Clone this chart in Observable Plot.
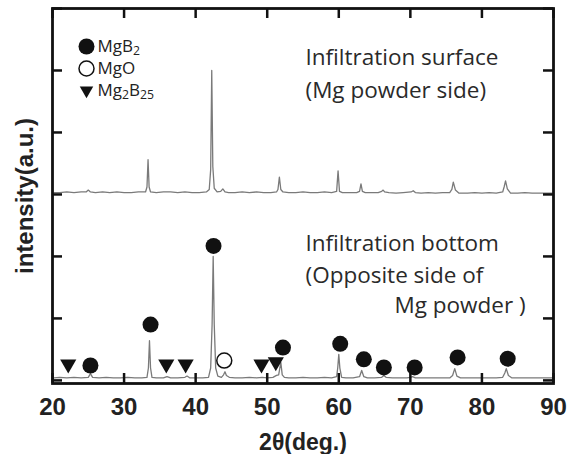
<!DOCTYPE html>
<html>
<head>
<meta charset="utf-8">
<script src="https://cdn.jsdelivr.net/npm/d3@7"></script>
<script src="https://cdn.jsdelivr.net/npm/@observablehq/plot@0.6"></script>
<style>
  html, body { margin: 0; padding: 0; background: #fff; }
  #chart svg { display: block; }
</style>
</head>
<body>
<div id="chart"></div>
<script>
// ---- Data ----
const xTicks = [20, 30, 40, 50, 60, 70, 80, 90];
const yTicks = [0, 1, 2, 3, 4, 5, 6];

// Infiltration surface trace (2θ, intensity a.u.)
const surfX = [20.2,21.0,22.0,23.0,24.0,24.7,25.0,25.3,26.0,27.0,28.0,29.0,30.0,31.0,32.0,33.0,33.2,33.35,33.5,33.7,34.5,35.5,36.5,37.5,38.5,39.5,40.5,41.5,41.9,42.1,42.25,42.4,42.6,43.0,43.5,43.8,44.1,44.6,45.5,46.5,47.5,48.5,49.5,50.5,51.3,51.5,51.7,51.9,52.2,53.0,54.0,55.0,56.0,57.0,58.0,59.0,59.7,59.9,60.1,60.5,61.5,62.5,62.9,63.1,63.3,63.7,64.5,65.5,66.0,66.2,66.4,67.0,68.0,69.0,70.1,70.4,70.7,71.5,72.5,73.5,74.5,75.5,75.8,76.0,76.3,76.8,78.0,79.0,80.0,81.0,82.0,82.9,83.1,83.3,83.55,84.0,85.0,86.0,87.0,88.0,89.0,89.8];
const surfY = [3.03,3.03,3.04,3.03,3.04,3.04,3.07,3.04,3.03,3.04,3.03,3.04,3.03,3.03,3.04,3.04,3.12,3.56,3.12,3.04,3.03,3.04,3.04,3.03,3.04,3.03,3.03,3.04,3.08,3.40,5.00,3.45,3.10,3.04,3.05,3.09,3.04,3.03,3.03,3.04,3.03,3.04,3.03,3.03,3.04,3.08,3.28,3.08,3.04,3.03,3.03,3.04,3.03,3.03,3.04,3.03,3.05,3.38,3.05,3.03,3.03,3.03,3.05,3.17,3.05,3.03,3.03,3.03,3.05,3.07,3.04,3.03,3.02,3.03,3.04,3.06,3.03,3.02,3.03,3.02,3.03,3.03,3.08,3.20,3.07,3.02,3.02,3.03,3.02,3.03,3.02,3.04,3.12,3.22,3.09,3.02,3.02,3.03,3.02,3.02,3.02,3.02];

// Infiltration bottom trace
const bottX = [20.2,21.0,22.0,23.0,24.0,25.0,25.3,25.6,26.5,27.5,28.5,29.5,30.5,31.5,32.5,33.2,33.4,33.55,33.7,33.9,34.5,35.5,36.0,36.5,37.5,38.5,38.8,39.2,40.0,41.0,41.8,42.1,42.3,42.45,42.6,42.8,43.1,43.6,43.9,44.1,44.3,44.7,45.5,46.5,47.5,48.5,49.3,50.0,50.8,51.3,51.6,51.9,52.1,52.4,53.0,54.0,55.0,56.0,57.0,58.0,59.0,59.7,59.85,60.0,60.15,60.4,61.0,62.0,62.9,63.2,63.5,64.0,65.0,66.0,66.3,66.6,67.5,68.5,69.5,70.0,70.3,70.7,71.5,72.5,73.5,74.5,75.5,75.9,76.2,76.5,77.0,78.0,79.0,80.0,81.0,82.0,82.9,83.2,83.4,83.7,84.2,85.0,86.0,87.0,88.0,89.0,89.8];
const bottY = [0.04,0.05,0.04,0.05,0.04,0.05,0.11,0.05,0.04,0.05,0.04,0.04,0.05,0.04,0.04,0.05,0.20,0.64,0.20,0.05,0.04,0.04,0.06,0.04,0.04,0.05,0.07,0.04,0.04,0.04,0.05,0.20,0.90,2.00,0.90,0.20,0.07,0.05,0.09,0.14,0.08,0.05,0.04,0.04,0.05,0.04,0.05,0.04,0.05,0.08,0.09,0.29,0.09,0.05,0.04,0.04,0.05,0.04,0.04,0.05,0.04,0.06,0.20,0.42,0.20,0.05,0.04,0.04,0.06,0.16,0.06,0.04,0.04,0.05,0.08,0.05,0.04,0.04,0.04,0.05,0.06,0.04,0.04,0.04,0.04,0.04,0.04,0.08,0.19,0.07,0.04,0.04,0.04,0.04,0.04,0.04,0.05,0.12,0.19,0.08,0.04,0.04,0.04,0.04,0.04,0.04,0.04];

// Phase markers on the bottom trace
const mgb2X = [25.3, 33.7, 42.5, 52.2, 60.2, 63.5, 66.3, 70.6, 76.6, 83.6];
const mgb2Y = [0.24, 0.90, 2.17, 0.53, 0.59, 0.34, 0.21, 0.21, 0.37, 0.35];
const mgoX = [44.0];
const mgoY = [0.32];
const mg2b25X = [22.2, 35.9, 38.6, 49.2, 51.2];
const mg2b25Y = [0.26, 0.26, 0.26, 0.26, 0.30];

const legendLabels = ["MgB_2", "MgO", "Mg_2B_25"];
const legendSymbols = ["filled", "open", "triangle"];
const annotSurface = ["Infiltration surface", "(Mg powder side)"];
const annotBottom = ["Infiltration bottom", "(Opposite side of", "Mg powder )"];
const xLabel = "2θ(deg.)";
const yLabel = "intensity(a.u.)";

// ---- Build tables ----
const surf = surfX.map((x, i) => ({x, y: surfY[i]}));
const bott = bottX.map((x, i) => ({x, y: bottY[i]}));
const mgb2 = mgb2X.map((x, i) => ({x, y: mgb2Y[i]}));
const mgo = mgoX.map((x, i) => ({x, y: mgoY[i]}));
const mg2b25 = mg2b25X.map((x, i) => ({x, y: mg2b25Y[i]}));

const triangleDown = {
  draw(ctx, size) {
    const a = Math.sqrt(4 * size / Math.sqrt(3));
    const h = a * Math.sqrt(3) / 2;
    ctx.moveTo(-a / 2, -h / 3);
    ctx.lineTo(a / 2, -h / 3);
    ctx.lineTo(0, 2 * h / 3);
    ctx.closePath();
  }
};

const W = 570, H = 454;
const mL = 52, mR = 17, mT = 8, mB = 71;
const innerW = W - mL - mR, innerH = H - mT - mB;
const TL = 10;
const tickStyle = {stroke: "#111", strokeWidth: 2.5};
const sansB = "'Liberation Sans', Arial, sans-serif";
const sans = "'Open Sans', 'Noto Sans', sans-serif";

const legendRowDy = [38, 60, 82];
const annotStyle = {textAnchor: "start", lineAnchor: "bottom", fontSize: 22.5, fontFamily: sans, fill: "#2a2a2a", frameAnchor: "top-left"};

const plot = Plot.plot({
  width: W,
  height: H,
  marginLeft: mL, marginRight: mR, marginTop: mT, marginBottom: mB,
  x: {domain: [20, 90], axis: null},
  y: {domain: [-0.05, 6], axis: null},
  style: {background: "#fff"},
  marks: [
    Plot.line(surf, {x: "x", y: "y", stroke: "#7a7a7a", strokeWidth: 1.3}),
    Plot.line(bott, {x: "x", y: "y", stroke: "#7a7a7a", strokeWidth: 1.3}),
    Plot.dot(mgb2, {x: "x", y: "y", r: 8, fill: "#111", stroke: "none"}),
    Plot.dot(mgo, {x: "x", y: "y", r: 7.5, fill: "#fff", stroke: "#111", strokeWidth: 1.5}),
    Plot.dot(mg2b25, {x: "x", y: "y", r: 6, symbol: triangleDown, fill: "#111", stroke: "none"}),
    // inward ticks
    Plot.tickX(xTicks, {x: d => d, insetTop: innerH - TL, ...tickStyle}),
    Plot.tickX(xTicks, {x: d => d, insetBottom: innerH - TL, ...tickStyle}),
    Plot.tickY(yTicks, {y: d => d, insetRight: innerW - TL, ...tickStyle}),
    Plot.tickY(yTicks, {y: d => d, insetLeft: innerW - TL, ...tickStyle}),
    Plot.frame({stroke: "#111", strokeWidth: 2.8}),
    // tick labels
    Plot.text(xTicks, {x: d => d, text: d => String(d), frameAnchor: "bottom", dy: 24,
      textAnchor: "middle", lineAnchor: "middle",
      fontSize: 24, fontWeight: "bold", fontFamily: sansB, fill: "#222"}),
    Plot.text([xLabel], {text: d => d, frameAnchor: "bottom", dy: 66,
      textAnchor: "middle", lineAnchor: "bottom",
      fontSize: 23, fontWeight: "bold", fontFamily: sansB, fill: "#222"}),
    Plot.text([yLabel], {text: d => d, frameAnchor: "left", dx: -27, rotate: -90,
      textAnchor: "middle", lineAnchor: "middle",
      fontSize: 24, fontWeight: "bold", fontFamily: sansB, fill: "#222"}),
    // legend
    Plot.dot([legendSymbols[0]], {frameAnchor: "top-left", dx: 34, dy: legendRowDy[0], r: 8, fill: "#111"}),
    Plot.dot([legendSymbols[1]], {frameAnchor: "top-left", dx: 34, dy: legendRowDy[1], r: 7.5, fill: "#fff", stroke: "#111", strokeWidth: 1.5}),
    Plot.dot([legendSymbols[2]], {frameAnchor: "top-left", dx: 34, dy: legendRowDy[2], r: 5, symbol: triangleDown, fill: "#111"}),
    ...legendLabels.map((lab, i) => Plot.text([lab], {text: d => d, frameAnchor: "top-left",
      dx: 45, dy: legendRowDy[i], textAnchor: "start", lineAnchor: "middle",
      fontSize: 17, fontFamily: sans, fill: "#222"})),
    // annotations
    Plot.text([annotSurface[0]], {text: d => d, dx: 253, dy: 56, ...annotStyle}),
    Plot.text([annotSurface[1]], {text: d => d, dx: 253, dy: 89, ...annotStyle}),
    Plot.text([annotBottom[0]], {text: d => d, dx: 253, dy: 242, ...annotStyle}),
    Plot.text([annotBottom[1]], {text: d => d, dx: 253, dy: 274, ...annotStyle}),
    Plot.text([annotBottom[2]], {text: d => d, dx: 342, dy: 304, ...annotStyle})
  ]
});

// subscripts for chemical formulas
d3.select(plot).selectAll("text").each(function () {
  const t = this.textContent;
  if (!t.includes("_")) return;
  const sel = d3.select(this);
  sel.text(null);
  const parts = t.split(/_(\d+)/);
  let shifted = false;
  parts.forEach((p, i) => {
    if (p === "") return;
    const sp = sel.append("tspan").text(p);
    if (i % 2 === 1) {
      sp.attr("font-size", "0.72em").attr("dy", shifted ? 0 : 3);
      shifted = true;
    } else if (shifted) {
      sp.attr("dy", -3);
      shifted = false;
    }
  });
});

document.getElementById("chart").appendChild(plot);
</script>
</body>
</html>
